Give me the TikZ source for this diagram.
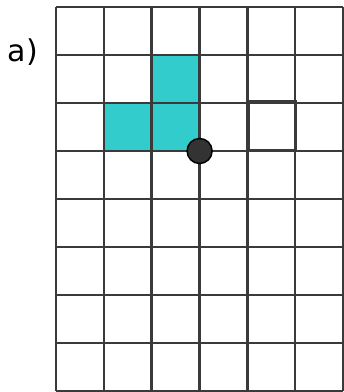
\documentclass[tikz,border=0pt]{standalone}
\usepackage{fontspec}
\setmainfont{DejaVu Sans}
\definecolor{teal1}{RGB}{51,204,204}
\definecolor{gridc}{RGB}{58,58,58}
\definecolor{dotc}{RGB}{51,51,51}
\begin{document}
\begin{tikzpicture}[x=1pt,y=-1pt,
  gridline/.style={draw=gridc,line width=2.6pt},
  cellfill/.style={fill=teal1},
  dot/.style={circle,fill=dotc,draw=black,line width=1.5pt,minimum size=25pt,inner sep=0pt},
  lbl/.style={font=\fontsize{30}{34}\selectfont,inner sep=0pt}]
\useasboundingbox (0,0) rectangle (344,392);
% teal cells
\fill[cellfill] (152,55) rectangle (199.6,103);
\fill[cellfill] (104.2,103) rectangle (199.6,151);
% grid
\foreach \i in {0,...,6} {
  \draw[gridline] ({56+47.8*\i},7) -- ({56+47.8*\i},391);
}
\foreach \j in {0,...,8} {
  \draw[gridline] (56,{7+48*\j}) -- (342.8,{7+48*\j});
}
% overlaid box
\draw[draw=gridc,line width=1.6pt] (248.8,101.2) rectangle (295.8,149.6);
% dot
\node[dot] (p) at (199.6,151) {};
% label
\node[lbl] (a) at (23,52) {a)};
\end{tikzpicture}
\end{document}
